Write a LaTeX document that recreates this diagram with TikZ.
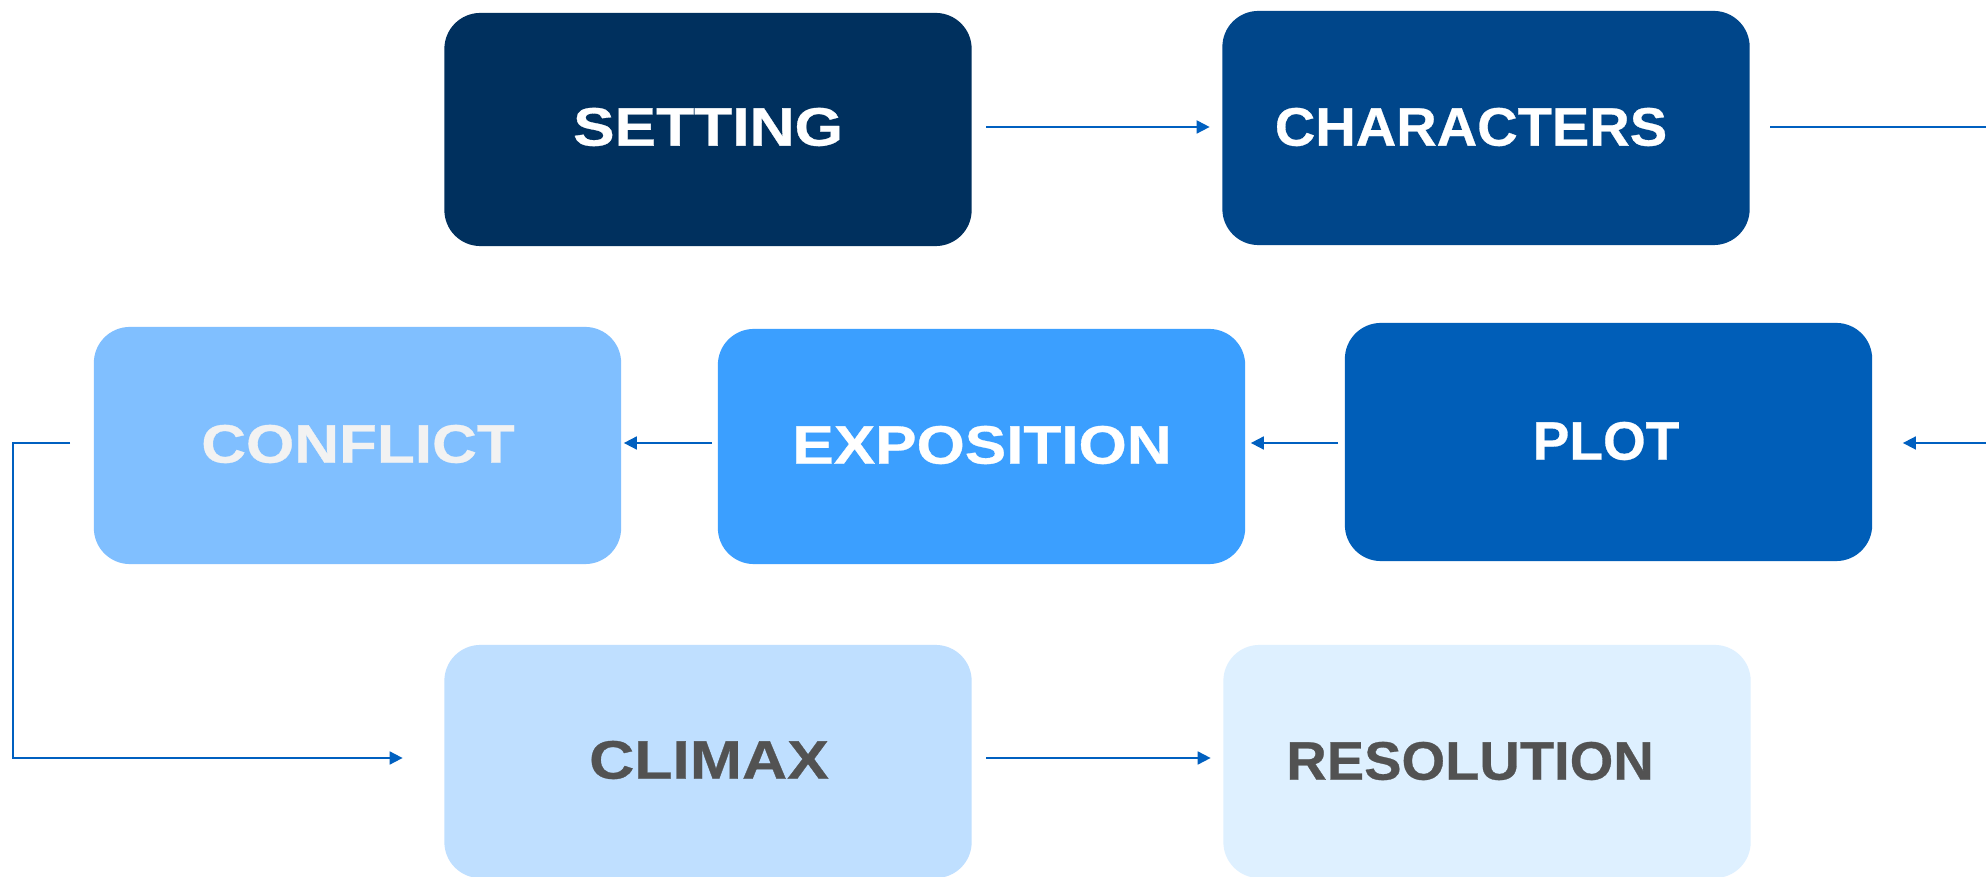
\documentclass[tikz,border=0pt]{standalone}
\usepackage{fontspec}
\setmainfont{Liberation Sans}
\newfontfamily\stagefont[FakeBold=0.5]{Liberation Sans Bold}
\usetikzlibrary{arrows.meta}

\definecolor{cSetting}{RGB}{0,48,94}
\definecolor{cCharacters}{RGB}{0,70,138}
\definecolor{cPlot}{RGB}{0,94,184}
\definecolor{cExposition}{RGB}{59,159,255}
\definecolor{cConflict}{RGB}{128,191,255}
\definecolor{cClimax}{RGB}{191,223,255}
\definecolor{cResolution}{RGB}{222,240,255}
\definecolor{txtLight}{RGB}{242,242,242}
\definecolor{txtDark}{RGB}{82,82,82}
\definecolor{flow}{RGB}{0,96,192}

\begin{document}
\begin{tikzpicture}[x=0.01cm,y=-0.01cm,
  stage/.style={draw=none, rounded corners=0.36cm, inner sep=0pt,
                minimum width=5.27cm},
  stagetext/.style={font=\fontsize{15.4pt}{18pt}\stagefont,
                    inner sep=0pt},
  flowline/.style={draw=flow, line width=0.5pt},
  conn/.style={flowline, -{Triangle[length=0.13cm,width=0.13cm]}},
]
\clip (0,0) rectangle (1986,877);
\fill[white] (0,0) rectangle (1986,877);

% rows on which the connectors run
\coordinate (rowA) at (1986,127);
\coordinate (rowB) at (1986,443);
\coordinate (rowC) at (0,758);
\coordinate (bend) at (13,0);

% stage boxes
\node[stage, fill=cSetting,    minimum height=2.33cm] (setting)    at (708,129.5)  {};
\node[stage, fill=cCharacters, minimum height=2.34cm] (characters) at (1486,128)   {};
\node[stage, fill=cConflict,   minimum height=2.37cm] (conflict)   at (357.5,445.5){};
\node[stage, fill=cExposition, minimum height=2.35cm] (exposition) at (981.5,446.5){};
\node[stage, fill=cPlot,       minimum height=2.38cm] (plot)       at (1608.5,442) {};
\node[stage, fill=cClimax,     minimum height=2.33cm] (climax)     at (708,761.5)  {};
\node[stage, fill=cResolution, minimum height=2.33cm] (resolution) at (1487,761.5) {};

% stage titles
\node[stagetext, text=white]    (settingT)    at (708,127)  {\scalebox{1.15}[1]{SETTING}};
\node[stagetext, text=white]    (charactersT) at (1471,127) {\scalebox{1.035}[1]{CHARACTERS}};
\node[stagetext, text=white]    (expositionT) at (982,445)  {\scalebox{1.145}[1]{EXPOSITION}};
\node[stagetext, text=white]    (plotT)       at (1606,441) {\scalebox{1.015}[1]{PLOT}};
\node[stagetext, text=txtLight] (conflictT)   at (358,444)  {\scalebox{1.145}[1]{CONFLICT}};
\node[stagetext, text=txtDark]  (climaxT)     at (709,760)  {\scalebox{1.155}[1]{CLIMAX}};
\node[stagetext, text=txtDark]  (resolutionT) at (1470,761) {\scalebox{1.035}[1]{RESOLUTION}};

% connectors
\draw[conn, shorten <=0.14cm, shorten >=0.12cm]
  (setting.east |- rowA) -- (characters.west |- rowA);
\draw[flowline, shorten <=0.2cm] (characters.east |- rowA) -- (rowA);
\draw[conn, shorten >=0.3cm] (rowB) -- (plot.east |- rowB);
\draw[conn, shorten <=0.06cm, shorten >=0.05cm]
  (plot.west |- rowB) -- (exposition.east |- rowB);
\draw[conn, shorten <=0.05cm, shorten >=0.02cm]
  (exposition.west |- rowB) -- (conflict.east |- rowB);
\draw[conn, shorten <=0.23cm, shorten >=0.41cm]
  (conflict.west |- rowB) -- (bend |- rowB) -- (bend |- rowC) -- (climax.west |- rowC);
\draw[conn, shorten <=0.14cm, shorten >=0.12cm]
  (climax.east |- rowC) -- (resolution.west |- rowC);
\end{tikzpicture}
\end{document}
